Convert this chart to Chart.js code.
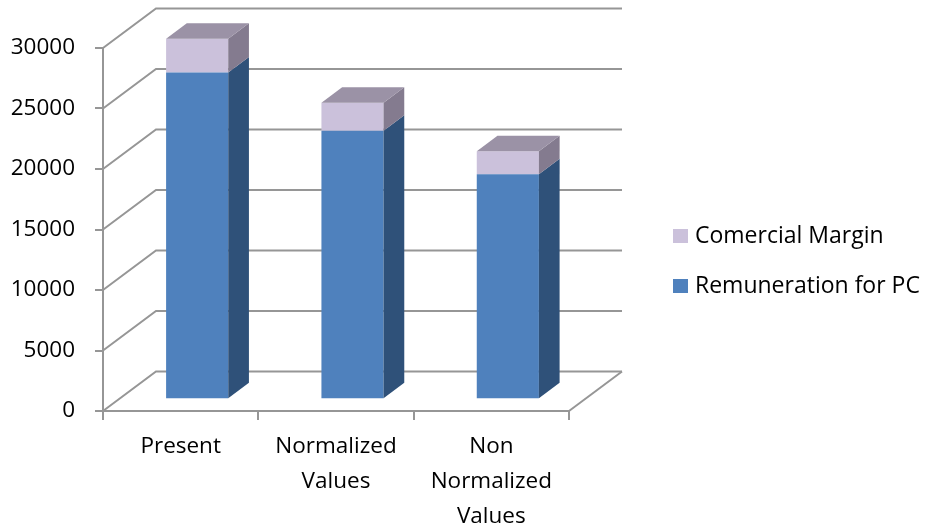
<!DOCTYPE html>
<html>
<head>
<meta charset="utf-8">
<script src="https://cdn.jsdelivr.net/npm/chart.js@4/dist/chart.umd.min.js"></script>
<style>
  html, body { margin: 0; padding: 0; background: #fff; }
</style>
</head>
<body>
<canvas id="chart" width="928" height="528"></canvas>
<script>
const categories = ['Present', ['Normalized', 'Values'], ['Non', 'Normalized', 'Values']];
const remuneration = [27000, 22200, 18600];
const margin = [2800, 2300, 1900];
const yMax = 30000;
const yStep = 5000;

const LINE = '#969696';
const FRONT_BLUE = '#4f81bd', SIDE_BLUE = '#2f5179';
const FRONT_LILAC = '#cbc1db', SIDE_LILAC = '#847b8f', TOP_LILAC = '#9b92a6';

// depth of the back wall and of the boxes
const WALL_DX = 53, WALL_DY = -39.5;
const BAR_SHIFT_X = 16.5, BAR_SHIFT_Y = -11.7;
const BAR_DX = 20.7, BAR_DY = -15.5;

Chart.defaults.font.family = "'Open Sans', sans-serif";
Chart.defaults.color = '#000';

const sideColors = [SIDE_BLUE, SIDE_LILAC];

const box3d = {
  id: 'box3d',
  beforeDatasetsDraw(chart) {
    const { ctx, chartArea: a, scales: { y } } = chart;
    ctx.save();
    ctx.strokeStyle = LINE;
    ctx.lineWidth = 2;
    y.ticks.forEach(t => {
      const py = y.getPixelForValue(t.value);
      ctx.beginPath();
      ctx.moveTo(a.left, py);
      ctx.lineTo(a.left + WALL_DX, py + WALL_DY);
      ctx.lineTo(a.right + WALL_DX, py + WALL_DY);
      ctx.stroke();
    });
    const p0 = y.getPixelForValue(0);
    ctx.beginPath();
    ctx.moveTo(a.right, p0);
    ctx.lineTo(a.right + WALL_DX, p0 + WALL_DY);
    ctx.stroke();
    ctx.restore();

    // boxes stand a little way into the floor
    ctx.save();
    ctx.translate(BAR_SHIFT_X, BAR_SHIFT_Y);
  },
  afterDatasetsDraw(chart) {
    const ctx = chart.ctx;
    const metas = chart.getSortedVisibleDatasetMetas();
    metas.forEach((meta, k) => {
      const isTop = k === metas.length - 1;
      meta.data.forEach(bar => {
        const { x, y, base, width } = bar.getProps(['x', 'y', 'base', 'width'], true);
        const x1 = x - width / 2, x2 = x + width / 2;
        ctx.fillStyle = sideColors[meta.index];
        ctx.beginPath();
        ctx.moveTo(x2, y);
        ctx.lineTo(x2 + BAR_DX, y + BAR_DY);
        ctx.lineTo(x2 + BAR_DX, base + BAR_DY);
        ctx.lineTo(x2, base);
        ctx.closePath();
        ctx.fill();
        if (isTop) {
          ctx.fillStyle = TOP_LILAC;
          ctx.beginPath();
          ctx.moveTo(x1, y);
          ctx.lineTo(x1 + BAR_DX, y + BAR_DY);
          ctx.lineTo(x2 + BAR_DX, y + BAR_DY);
          ctx.lineTo(x2, y);
          ctx.closePath();
          ctx.fill();
        }
      });
    });
    ctx.restore();
  }
};

const sideLegend = {
  id: 'sideLegend',
  afterDraw(chart) {
    const ctx = chart.ctx;
    const items = chart.data.datasets.slice().reverse();
    ctx.save();
    ctx.font = "23px 'Open Sans', sans-serif";
    ctx.textBaseline = 'middle';
    items.forEach((ds, i) => {
      const cy = 236 + i * 50;
      ctx.fillStyle = ds.backgroundColor;
      ctx.fillRect(673, cy - 7, 15, 14);
      ctx.fillStyle = '#000';
      ctx.fillText(ds.label, 695, cy);
    });
    ctx.restore();
  }
};

new Chart(document.getElementById('chart'), {
  type: 'bar',
  data: {
    labels: categories,
    datasets: [
      { label: 'Remuneration for PC', data: remuneration, backgroundColor: FRONT_BLUE, borderWidth: 0, clip: false },
      { label: 'Comercial Margin', data: margin, backgroundColor: FRONT_LILAC, borderWidth: 0, clip: false }
    ]
  },
  options: {
    responsive: false,
    animation: false,
    categoryPercentage: 1,
    barPercentage: 0.4,
    layout: { padding: { top: 48, right: 359, left: 0, bottom: 0 } },
    plugins: { legend: { display: false }, tooltip: { enabled: false } },
    scales: {
      x: {
        stacked: true,
        afterFit: s => { s.height = 117; },
        grid: { drawOnChartArea: false, offset: true, color: LINE, lineWidth: 2, tickLength: 9 },
        border: { color: LINE, width: 2 },
        ticks: { font: { size: 22.5, lineHeight: 1.56 }, padding: 9, maxRotation: 0 }
      },
      y: {
        stacked: true,
        min: 0,
        max: yMax,
        afterFit: s => { s.width = 103; },
        grid: { drawOnChartArea: false, color: LINE, lineWidth: 2, tickLength: 8 },
        border: { color: LINE, width: 2 },
        ticks: { stepSize: yStep, padding: 20, font: { size: 22.5 }, callback: v => String(v) }
      }
    }
  },
  plugins: [box3d, sideLegend]
});
</script>
</body>
</html>
